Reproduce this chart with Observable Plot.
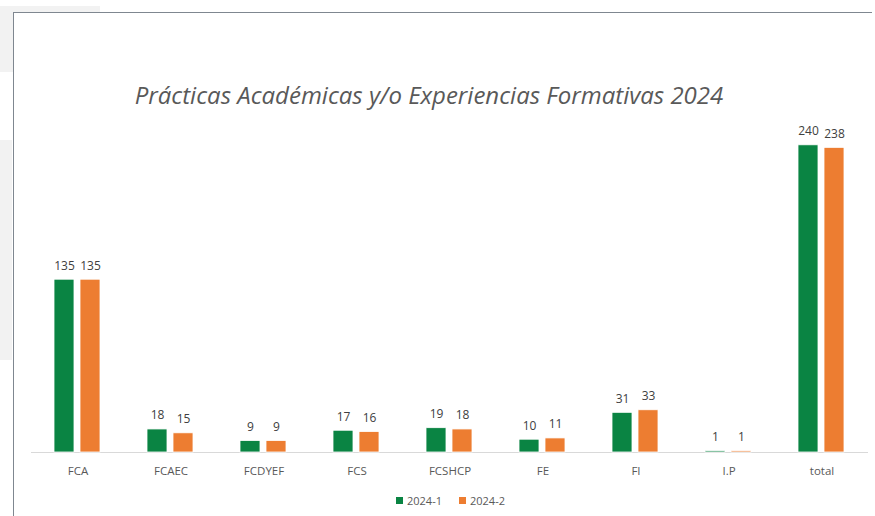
<!DOCTYPE html>
<html>
<head>
<meta charset="utf-8">
<script src="https://cdn.jsdelivr.net/npm/d3@7"></script>
<script src="https://cdn.jsdelivr.net/npm/@observablehq/plot@0.6"></script>
<style>
  html, body { margin: 0; padding: 0; background: #fff; }
  #wrap { position: relative; width: 875px; height: 516px; overflow: hidden; font-family: "Open Sans", sans-serif; }
  #bg1 { position: absolute; left: 0; top: 6px; width: 100px; height: 66px; background: #f2f2f2; }
  #bg2 { position: absolute; left: 0; top: 140px; width: 12px; height: 220px; background: #f2f2f2; }
  #frame { position: absolute; left: 13px; top: 12px; width: 858px; height: 520px; border-left: 1px solid #7f8790; border-top: 1px solid #7f8790; background: #fff; }
  #chart { position: absolute; left: 0; top: 0; }
  #title { position: absolute; left: 0; width: 858px; top: 78px; text-align: center; font-style: italic; font-size: 24px; color: #595959; font-family: "Open Sans", sans-serif; }
  #legend { position: absolute; top: 493px; left: 396px; font-size: 11px; color: #595959; display: flex; align-items: center; font-family: "Open Sans", sans-serif; }
  #legend .sw { width: 7px; height: 7px; display: inline-block; margin-right: 4px; }
  #legend .item { display: flex; align-items: center; margin-right: 17px; }
</style>
</head>
<body>
<div id="wrap">
  <div id="bg1"></div>
  <div id="bg2"></div>
  <div id="frame"></div>
  <div id="chart"></div>
  <div id="title">Prácticas Académicas y/o Experiencias Formativas 2024</div>
  <div id="legend"></div>
</div>
<script>
const categories = ["FCA", "FCAEC", "FCDYEF", "FCS", "FCSHCP", "FE", "FI", "I.P", "total"];
const series = ["2024-1", "2024-2"];
const values2024_1 = [135, 18, 9, 17, 19, 10, 31, 1, 240];
const values2024_2 = [135, 15, 9, 16, 18, 11, 33, 1, 238];
const colors = ["#0a8443", "#ed7d31"];

const data = categories.flatMap((c, i) => [
  {cat: c, series: series[0], value: values2024_1[i]},
  {cat: c, series: series[1], value: values2024_2[i]}
]);

const chart = Plot.plot({
  width: 875,
  height: 516,
  marginLeft: 29,
  marginRight: 6,
  marginTop: 132,
  marginBottom: 64,
  style: {background: "transparent", fontFamily: "Open Sans, sans-serif", fontSize: "11.5px", color: "#595959"},
  fx: {domain: categories, padding: 0, label: null, tickSize: 0, tickPadding: 14},
  x: {domain: series, axis: null, paddingInner: 0.222, paddingOuter: 0.838},
  y: {domain: [0, 250], axis: null},
  color: {domain: series, range: colors},
  marks: [
    Plot.ruleY([0], {stroke: "#d9d9d9", strokeWidth: 1.2}),
    Plot.barY(data, {fx: "cat", x: "series", y: "value", fill: "series", stroke: "#ffffff", strokeWidth: 0.8}),
    Plot.text(data, {fx: "cat", x: "series", y: "value", text: d => String(d.value), dy: -14, fill: "#404040", fontSize: 12})
  ]
});
document.getElementById("chart").appendChild(chart);

const legend = document.getElementById("legend");
series.forEach((s, i) => {
  const item = document.createElement("div");
  item.className = "item";
  const sw = document.createElement("span");
  sw.className = "sw";
  sw.style.background = colors[i];
  const t = document.createElement("span");
  t.textContent = s;
  item.appendChild(sw);
  item.appendChild(t);
  legend.appendChild(item);
});
</script>
</body>
</html>
